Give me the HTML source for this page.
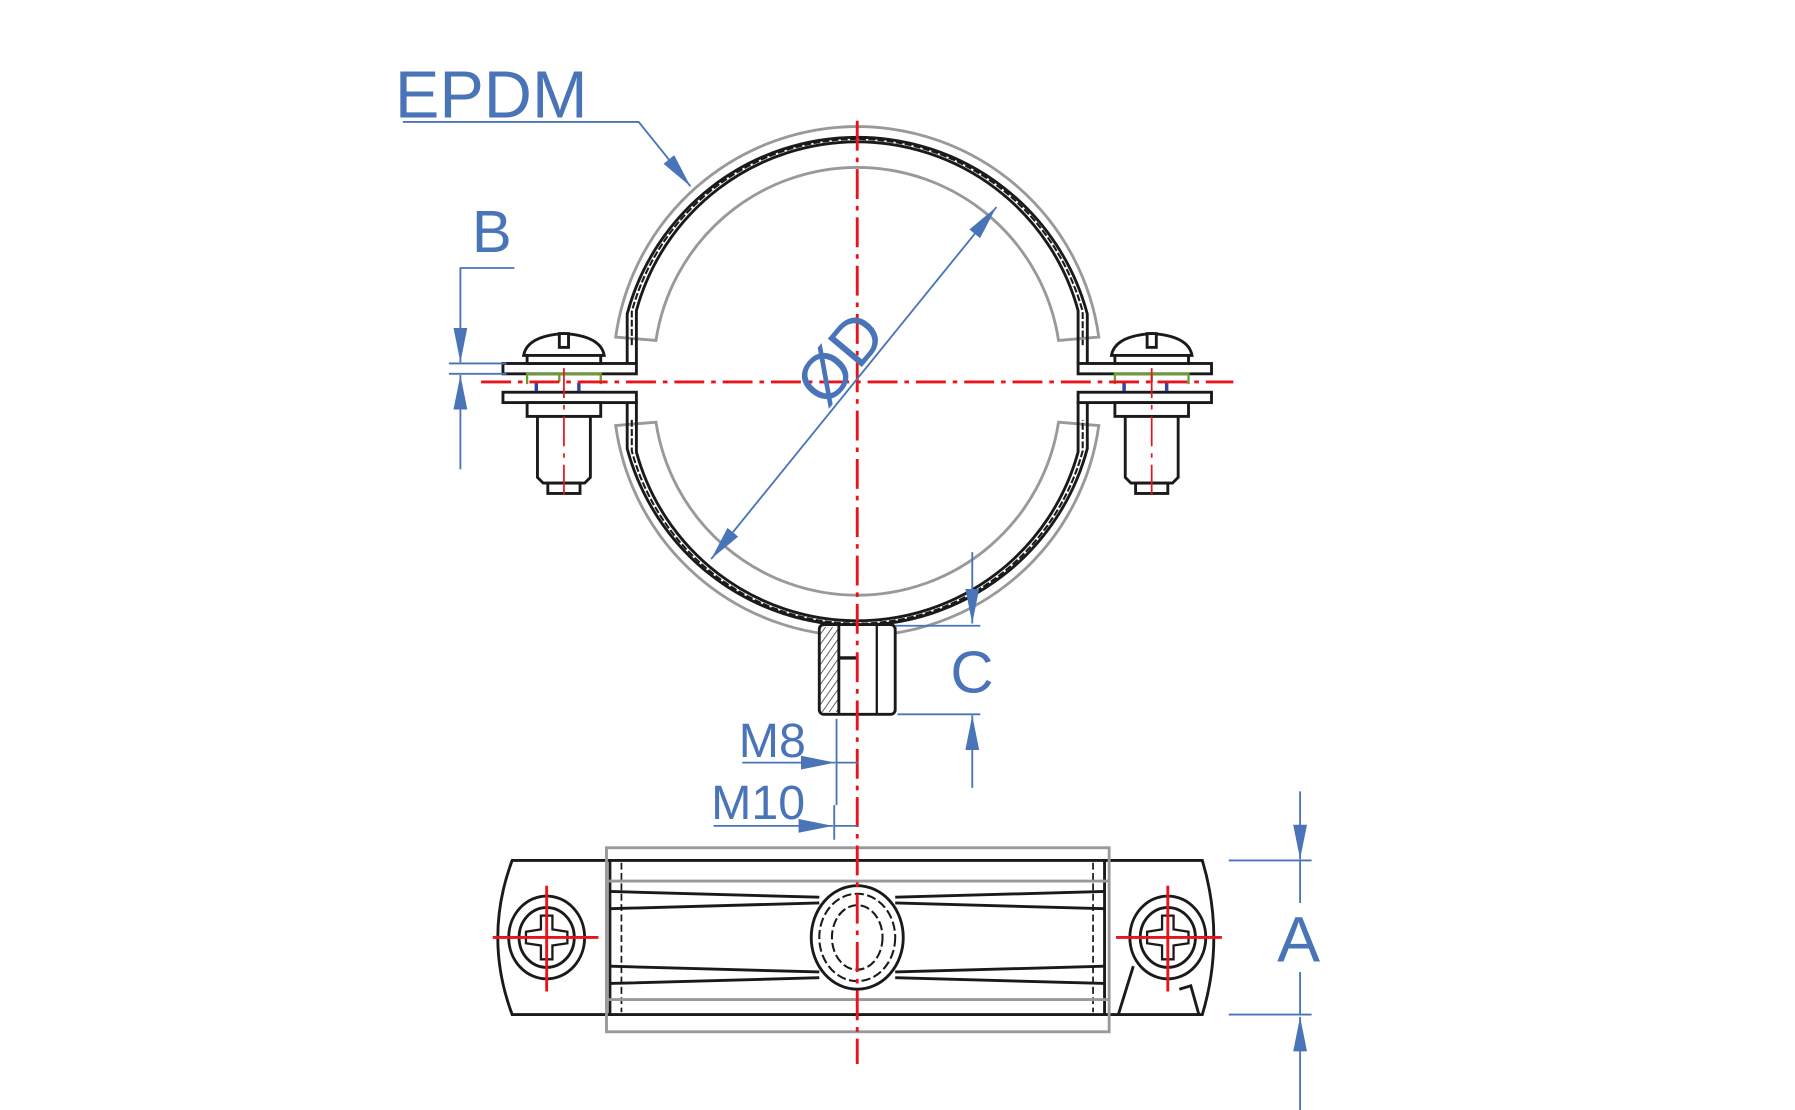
<!DOCTYPE html>
<html><head><meta charset="utf-8"><style>
html,body{margin:0;padding:0;background:#fff;}
svg{display:block;}
text{font-family:"Liberation Sans",sans-serif;fill:#4a74b8;}
</style></head><body>
<svg width="1795" height="1110" viewBox="0 0 1560 965" xmlns="http://www.w3.org/2000/svg">
<defs>
<marker id="ab" viewBox="0 0 30 12" refX="30" refY="6" markerWidth="30" markerHeight="12" markerUnits="userSpaceOnUse" orient="auto-start-reverse">
<path d="M0,0 L30,6 L0,12 z" fill="#4a74b8"/></marker>
<pattern id="hatch" width="5" height="5" patternUnits="userSpaceOnUse" patternTransform="rotate(35)"><line x1="0" y1="0" x2="0" y2="5" stroke="#222" stroke-width="1.2"/></pattern>
</defs>

<!-- gray EPDM liner arcs -->
<g fill="none" stroke="#999" stroke-width="2.5">
<path d="M535,293 A212,212 0 0 1 955,293 L920,296 A177,177 0 0 0 570,296 Z"/>
<path d="M535,370 A212,212 0 0 0 955,370 L920,367 A177,177 0 0 1 570,367 Z"/>
</g>
<!-- black band -->
<g fill="none" stroke="#1a1a1a" stroke-width="2.5">
<path d="M545,316 L545,273 A207,207 0 0 1 945,273 L945,316"/>
<path d="M553,316 L553,270 A199,199 0 0 1 937,270 L937,316"/>
<path d="M549,300 L549,271 A203,203 0 0 1 941,271 L941,300" stroke-dasharray="6,2" stroke-width="1.8"/>
<path d="M545,349 L545,390 A207,207 0 0 0 945,390 L945,349"/>
<path d="M553,349 L553,393 A199,199 0 0 0 937,393 L937,349"/>
<path d="M549,365 L549,392 A203,203 0 0 0 941,392 L941,365" stroke-dasharray="6,2" stroke-width="1.8"/>
</g>

<!-- flanges and screws -->
<g fill="#fff" stroke="#1a1a1a" stroke-width="2.5">
<rect x="437" y="316" width="116" height="9"/>
<rect x="437" y="341" width="116" height="9"/>
<rect x="937" y="316" width="116" height="9"/>
<rect x="937" y="341" width="116" height="9"/>
<g id="scr">
<path d="M455,309 Q458,292 490,290 Q522,292 525,309 Z"/>
<rect x="486" y="290" width="8" height="12"/>
<rect x="458" y="309" width="64" height="7"/>
<rect x="458" y="350" width="64" height="12"/>
<path d="M467,362 L513,362 L513,415 L508,420 L472,420 L467,415 Z"/>
<rect x="476" y="420" width="28" height="9"/>
</g>
<use href="#scr" transform="translate(511,0)"/>
</g>
<g stroke="#6b9d2a" stroke-width="2" fill="none">
<path d="M458,334 L458,325 L522,325 L522,334 M486,325 L486,332"/>
<path d="M969,334 L969,325 L1033,325 L1033,334 M1001,325 L1001,332"/>
</g>
<g stroke="#33449a" stroke-width="3">
<path d="M466,333 L466,340 M503,333 L503,340 M977,333 L977,340 M1014,333 L1014,340"/>
</g>

<!-- bottom nut -->
<rect x="712" y="543" width="66" height="78" rx="4" fill="#fff" stroke="#1a1a1a" stroke-width="2.5"/>
<rect x="713" y="545" width="15" height="74" fill="url(#hatch)"/>
<line x1="729" y1="543" x2="729" y2="621" stroke="#1a1a1a" stroke-width="2.5"/>
<line x1="762" y1="543" x2="762" y2="621" stroke="#1a1a1a" stroke-width="2"/>
<line x1="729" y1="572" x2="745" y2="572" stroke="#1a1a1a" stroke-width="3"/>

<!-- bottom view -->
<g fill="none" stroke="#1a1a1a" stroke-width="2.5">
<path d="M445,748 L1045,748 Q1065,815 1045,882 L445,882 Q420,815 445,748 Z"/>
<path d="M530,748 L530,882 M960,748 L960,882"/>
<path d="M540,750 L540,880 M950,750 L950,880" stroke-dasharray="6,3" stroke-width="1.5"/>
<path d="M530,775 L712,780 M778,780 L960,775 M530,790 L712,785 M778,785 L960,790"/>
<path d="M530,855 L712,850 M778,850 L960,855 M530,840 L712,845 M778,845 L960,840"/>
<ellipse cx="745" cy="815" rx="40" ry="45"/>
<ellipse cx="745" cy="815" rx="33" ry="38" stroke-dasharray="8,3" stroke-width="1.8"/>
<ellipse cx="745" cy="815" rx="22" ry="28" stroke-dasharray="8,3" stroke-width="1.8"/>
<ellipse cx="475" cy="815" rx="33" ry="36"/>
<ellipse cx="475" cy="815" rx="24" ry="26"/>
<ellipse cx="1015" cy="815" rx="33" ry="36"/>
<ellipse cx="1015" cy="815" rx="24" ry="26"/>
<path d="M470,796 L480,796 L480,808 L493,810 L493,820 L480,822 L480,834 L470,834 L470,822 L457,820 L457,810 L470,808 Z" stroke-width="2"/>
<path d="M1010,796 L1020,796 L1020,808 L1033,810 L1033,820 L1020,822 L1020,834 L1010,834 L1010,822 L997,820 L997,810 L1010,808 Z" stroke-width="2"/>
<path d="M985,840 L972,882 M1025,860 L1035,857 L1042,882"/>
</g>
<g fill="none" stroke="#999" stroke-width="2.5">
<rect x="527" y="737" width="437" height="160"/>
<path d="M527,766 L964,766 M527,869 L964,869"/>
</g>

<!-- red centerlines -->
<g stroke="#e8141c" stroke-width="2.5" fill="none" stroke-dasharray="26,6,4,6">
<line x1="745" y1="105" x2="745" y2="925"/>
<line x1="418" y1="332" x2="1072" y2="332"/>
<line x1="490" y1="320" x2="490" y2="430" stroke-width="1.5"/>
<line x1="1001" y1="320" x2="1001" y2="430" stroke-width="1.5"/>
</g>
<g stroke="#e8141c" stroke-width="2.5">
<path d="M428,815 L520,815 M475,770 L475,862 M970,815 L1062,815 M1015,770 L1015,862"/>
</g>

<!-- dimensions -->
<g stroke="#4a74b8" stroke-width="1.6" fill="none">
<path d="M350,106 L555,106 L600,162" marker-end="url(#ab)"/>
<path d="M447,233 L400,233 L400,315" marker-end="url(#ab)"/>
<path d="M390,316 L440,316 M390,325 L440,325"/>
<path d="M400,408 L400,326" marker-end="url(#ab)"/>
<line x1="618" y1="486" x2="866" y2="180" marker-start="url(#ab)" marker-end="url(#ab)"/>
<path d="M845,480 L845,542" marker-end="url(#ab)"/>
<path d="M778,544 L852,544 M780,621 L852,621"/>
<path d="M845,685 L845,622" marker-end="url(#ab)"/>
<path d="M645,663 L726,663" marker-end="url(#ab)"/>
<path d="M727,625 L727,700 M727,663 L746,663"/>
<path d="M620,718 L724,718" marker-end="url(#ab)"/>
<path d="M725,700 L725,730 M725,718 L745,718"/>
<path d="M1130,688 L1130,747" marker-end="url(#ab)"/>
<path d="M1068,748 L1140,748 M1068,882 L1140,882"/>
<path d="M1130,748 L1130,785 M1130,845 L1130,882"/>
<path d="M1130,965 L1130,884" marker-end="url(#ab)"/>
</g>

<text x="343" y="102" font-size="58">EPDM</text>
<text x="410" y="219" font-size="52">B</text>
<text x="826" y="602" font-size="52">C</text>
<text x="642" y="658" font-size="42">M8</text>
<text x="618" y="712" font-size="42">M10</text>
<text x="1110" y="836" font-size="56">A</text>
<text x="0" y="0" font-size="56" transform="translate(718,356) rotate(-50)">ØD</text>
</svg>
</body></html>
